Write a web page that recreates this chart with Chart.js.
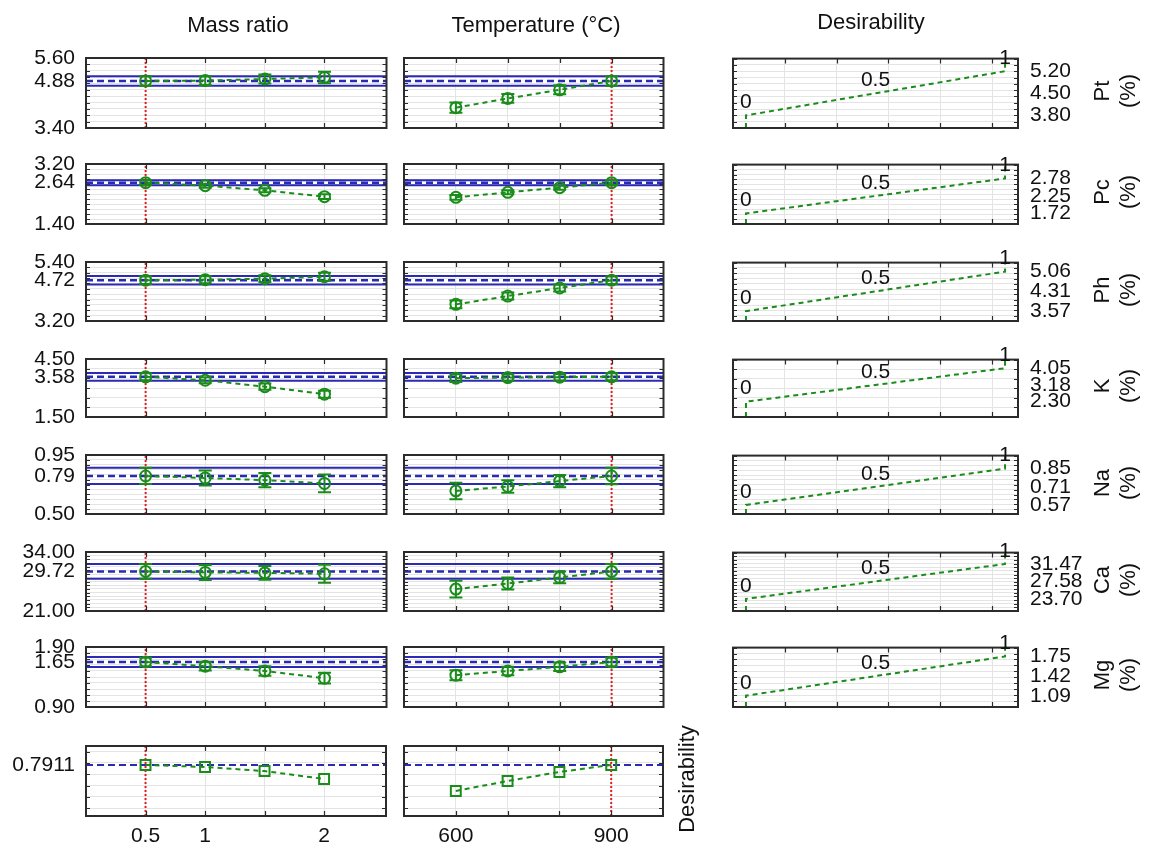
<!DOCTYPE html>
<html>
<head>
<meta charset="utf-8">
<script src="https://cdn.jsdelivr.net/npm/chart.js@4.4.0/dist/chart.umd.min.js"></script>
<style>
  body { margin: 0; background: #fff; }
  #page { position: relative; width: 1149px; height: 850px; overflow: hidden;
          font-family: 'Liberation Sans', Arial, sans-serif; color: #111; }
  .panel { position: absolute; }
  .panel canvas { display: block; }
  .lbl { position: absolute; font-size: 22px; line-height: 26px; white-space: nowrap;
         text-align: center; transform: translate(-50%, -50%); }
  .rot { transform: translate(-50%, -50%) rotate(-90deg); }
</style>
</head>
<body>
<div id="page"></div>
<script>
// factors
const massRatio = [0.5, 1, 1.5, 2];
const massTickLabels = ['0.5', '1', '', '2'];
const temperature = [600, 700, 800, 900];
const tempTickLabels = ['600', '', '', '900'];
const massCurrent = 0.5;
const tempCurrent = 900;

// responses (one row each)
const responses = ['Pt', 'Pc', 'Ph', 'K', 'Na', 'Ca', 'Mg'];
const axisMin = [3.40, 1.40, 3.20, 1.50, 0.50, 21.00, 0.90];
const axisMax = [5.60, 3.20, 5.40, 4.50, 0.95, 34.00, 1.90];
const axisStep = [0.2, 0.15, 0.2, 0.5, 0.0375, 0.8125, 0.1];
const predicted = [4.88, 2.64, 4.72, 3.58, 0.79, 29.72, 1.65];
const predictedCI = [0.15, 0.075, 0.16, 0.20, 0.062, 1.62, 0.084];

const meanVsMass = [
  [4.88, 4.89, 4.94, 4.99],
  [2.64, 2.55, 2.41, 2.22],
  [4.72, 4.74, 4.78, 4.85],
  [3.58, 3.40, 3.07, 2.68],
  [0.79, 0.775, 0.758, 0.733],
  [29.72, 29.5, 29.4, 29.2],
  [1.65, 1.58, 1.50, 1.38]
];
const errVsMass = [
  [0.15, 0.14, 0.14, 0.18],
  [0.07, 0.06, 0.06, 0.07],
  [0.14, 0.13, 0.13, 0.15],
  [0.18, 0.16, 0.16, 0.18],
  [0.062, 0.057, 0.054, 0.068],
  [1.62, 1.66, 1.5, 2.0],
  [0.07, 0.07, 0.08, 0.09]
];
const meanVsTemp = [
  [4.04, 4.33, 4.60, 4.88],
  [2.20, 2.35, 2.49, 2.64],
  [3.82, 4.13, 4.43, 4.72],
  [3.51, 3.54, 3.56, 3.58],
  [0.676, 0.710, 0.751, 0.79],
  [25.82, 27.06, 28.39, 29.72],
  [1.43, 1.50, 1.57, 1.65]
];
const errVsTemp = [
  [0.16, 0.14, 0.14, 0.15],
  [0.07, 0.06, 0.06, 0.07],
  [0.14, 0.13, 0.13, 0.14],
  [0.20, 0.17, 0.17, 0.18],
  [0.063, 0.047, 0.047, 0.063],
  [1.85, 1.33, 1.3, 1.62],
  [0.084, 0.07, 0.07, 0.07]
];

// desirability functions (value at d = 0, 0.5, 1)
const desLow = [3.80, 1.72, 3.57, 2.30, 0.57, 23.70, 1.09];
const desMid = [4.50, 2.25, 4.31, 3.18, 0.71, 27.58, 1.42];
const desHigh = [5.20, 2.78, 5.06, 4.05, 0.85, 31.47, 1.75];
const desTicks = [0.15, 0.35, 0.55, 0.75, 0.95];

// overall desirability row
const desirVsMass = [0.7911, 0.782, 0.764, 0.729];
const desirVsTemp = [0.676, 0.720, 0.760, 0.7911];
const desirCurrent = 0.7911;
const desirAxisTicks = [0.60, 0.65, 0.70, 0.75, 0.80, 0.85];

// layout
const FONT = "'Liberation Sans', Arial, sans-serif";
const GREEN = '#1a8c1a', BLUE = '#2a2ab4', RED = '#e02020', GRID = '#e4e4e4', INK = '#111';
const COLS = [{ left: 86, right: 387 }, { left: 404, right: 664 }, { left: 733, right: 1018 }];
const ROW_TOP = [58, 164, 262, 359, 455, 552, 647, 746];
const ROW_BOTTOM = [128, 224, 321, 417, 514, 611, 707, 816];

Chart.defaults.font.family = FONT;
Chart.defaults.font.size = 21;
Chart.defaults.color = INK;

const page = document.getElementById('page');

function steps(min, max, step) {
  const out = [];
  for (let i = 0; min + i * step <= max + 1e-9; i++) out.push(+(min + i * step).toFixed(6));
  return out;
}
function hasVal(list, v) { return list.some(l => Math.abs(l - v) < 1e-7); }

function text(str, x, y, cls) {
  const d = document.createElement('div');
  d.className = 'lbl' + (cls ? ' ' + cls : '');
  d.innerHTML = str;
  d.style.left = x + 'px';
  d.style.top = y + 'px';
  page.appendChild(d);
}

// frame, inward ticks and point notes
function framePlugin(minor, notes) {
  return {
    id: 'frame',
    afterDatasetsDraw(chart) {
      const { ctx, chartArea: a, scales: { x, y } } = chart;
      ctx.save();
      ctx.strokeStyle = '#2b2b2b';
      ctx.lineWidth = 1.2;
      ctx.beginPath();
      x.ticks.forEach(t => {
        const px = Math.round(x.getPixelForValue(t.value)) + 0.5;
        ctx.moveTo(px, a.top); ctx.lineTo(px, a.top + 5);
        ctx.moveTo(px, a.bottom); ctx.lineTo(px, a.bottom - 5);
      });
      y.ticks.forEach(t => {
        if (!hasVal(minor, t.value)) return;
        const py = Math.round(y.getPixelForValue(t.value)) + 0.5;
        ctx.moveTo(a.left, py); ctx.lineTo(a.left + 4, py);
        ctx.moveTo(a.right, py); ctx.lineTo(a.right - 4, py);
      });
      ctx.stroke();
      ctx.lineWidth = 2;
      ctx.strokeRect(a.left, a.top, a.right - a.left, a.bottom - a.top);
      if (notes) {
        ctx.fillStyle = INK;
        ctx.font = '21px ' + FONT;
        ctx.textAlign = 'center';
        ctx.textBaseline = 'middle';
        notes.forEach(n => ctx.fillText(n.text, x.getPixelForValue(n.x), y.getPixelForValue(n.y) - 13));
      }
      ctx.restore();
    }
  };
}

function makePanel(p) {
  const c = COLS[p.col];
  const top = ROW_TOP[p.row], bottom = ROW_BOTTOM[p.row];
  const right = p.col === 2;
  const padL = p.col === 0 ? 80 : (p.col === 1 ? 10 : 8);
  const padR = right ? 70 : 8;
  const padT = 24, padB = 36;
  const div = document.createElement('div');
  div.className = 'panel';
  div.style.left = (c.left - padL) + 'px';
  div.style.top = (top - padT) + 'px';
  div.style.width = (padL + c.right - c.left + padR) + 'px';
  div.style.height = (padT + bottom - top + padB) + 'px';
  const cv = document.createElement('canvas');
  div.appendChild(cv);
  page.appendChild(div);

  const allY = p.yTicks.concat(p.yLabels.filter(v => !hasVal(p.yTicks, v))).sort((a, b) => a - b);

  new Chart(cv, {
    type: 'line',
    data: { datasets: p.datasets },
    options: {
      responsive: true,
      maintainAspectRatio: false,
      animation: false,
      events: [],
      layout: { padding: { top: padT, left: right ? padL : 0, right: right ? 0 : padR, bottom: 0 } },
      plugins: { legend: { display: false }, tooltip: { enabled: false } },
      scales: {
        x: {
          type: 'linear', min: p.xMin, max: p.xMax,
          afterBuildTicks: s => { s.ticks = p.xTicks.map(v => ({ value: v })); },
          afterFit: s => { s.height = padB; },
          ticks: {
            autoSkip: false, maxRotation: 0, padding: 8,
            display: !!p.xLabels,
            callback: (v, i) => (p.xLabels ? p.xLabels[i] : '')
          },
          grid: { color: GRID, drawTicks: false },
          border: { display: false }
        },
        y: {
          type: 'linear', position: right ? 'right' : 'left', min: p.yMin, max: p.yMax,
          afterBuildTicks: s => { s.ticks = allY.map(v => ({ value: v })); },
          afterFit: s => { s.width = right ? padR : padL; },
          ticks: {
            autoSkip: false, padding: right ? 12 : 11,
            callback: v => (hasVal(p.yLabels, v) ? Number(v).toFixed(p.yDec) : '')
          },
          grid: {
            color: ctx => (ctx.tick && hasVal(p.yTicks, ctx.tick.value) ? GRID : 'rgba(0,0,0,0)'),
            drawTicks: false
          },
          border: { display: false }
        }
      }
    },
    plugins: [framePlugin(p.yTicks, p.notes)]
  });
}

function hLine(y, x0, x1, dash, width, order) {
  return { data: [{ x: x0, y }, { x: x1, y }], borderColor: BLUE, borderDash: dash,
           borderWidth: width, pointRadius: 0, order };
}
function vLine(x, y0, y1) {
  return { data: [{ x, y: y0 }, { x, y: y1 }], borderColor: RED, borderDash: [2, 2],
           borderWidth: 2, pointRadius: 0, order: 2 };
}
function errorBars(xs, means, errs) {
  const pts = [];
  xs.forEach((x, i) => {
    pts.push({ x, y: means[i] - errs[i] }, { x, y: means[i] + errs[i] }, { x, y: NaN });
  });
  return { data: pts, borderColor: GREEN, borderWidth: 2, pointStyle: 'line',
           pointRadius: 6.5, pointBorderColor: GREEN, pointBorderWidth: 2, order: 1 };
}
function profile(xs, ys, style, radius) {
  return { data: xs.map((x, i) => ({ x, y: ys[i] })), borderColor: GREEN, borderDash: [5, 4],
           borderWidth: 2, pointStyle: style, pointRadius: radius,
           pointBackgroundColor: 'rgba(0,0,0,0)', pointBorderColor: GREEN, pointBorderWidth: 2, order: 0 };
}

const factorCols = [
  { xs: massRatio, xMin: 0, xMax: 2.52, labels: massTickLabels, cur: massCurrent, means: meanVsMass, errs: errVsMass, desir: desirVsMass },
  { xs: temperature, xMin: 500, xMax: 1000, labels: tempTickLabels, cur: tempCurrent, means: meanVsTemp, errs: errVsTemp, desir: desirVsTemp }
];

responses.forEach((name, r) => {
  const lo = axisMin[r], hi = axisMax[r];
  const minor = steps(lo, hi, axisStep[r]);
  factorCols.forEach((f, c) => {
    makePanel({
      col: c, row: r, xMin: f.xMin, xMax: f.xMax, xTicks: f.xs, xLabels: null,
      yMin: lo, yMax: hi, yTicks: minor, yLabels: c === 0 ? [lo, predicted[r], hi] : [], yDec: 2,
      datasets: [
        profile(f.xs, f.means[r], 'circle', 5.5),
        errorBars(f.xs, f.means[r], f.errs[r]),
        vLine(f.cur, lo, hi),
        hLine(predicted[r], f.xMin, f.xMax, [7, 4], 2.5, 3),
        hLine(predicted[r] + predictedCI[r], f.xMin, f.xMax, [], 2, 4),
        hLine(predicted[r] - predictedCI[r], f.xMin, f.xMax, [], 2, 4)
      ]
    });
  });
  makePanel({
    col: 2, row: r, xMin: -0.05, xMax: 1.05, xTicks: desTicks, xLabels: null,
    yMin: lo, yMax: hi, yTicks: minor, yLabels: [desLow[r], desMid[r], desHigh[r]], yDec: 2,
    notes: [{ x: 0, y: desLow[r], text: '0' }, { x: 0.5, y: desMid[r], text: '0.5' }, { x: 1, y: desHigh[r], text: '1' }],
    datasets: [{
      data: [{ x: 0, y: lo }, { x: 0, y: desLow[r] }, { x: 1, y: desHigh[r] }, { x: 1, y: hi }],
      borderColor: GREEN, borderDash: [5, 4], borderWidth: 2, pointRadius: 0
    }]
  });
  text(name + '<br>(%)', 1115, (ROW_TOP[r] + ROW_BOTTOM[r]) / 2 - 2, 'rot');
});

// overall desirability row
factorCols.forEach((f, c) => {
  makePanel({
    col: c, row: 7, xMin: f.xMin, xMax: f.xMax, xTicks: f.xs, xLabels: f.labels,
    yMin: 0.565, yMax: 0.875, yTicks: desirAxisTicks, yLabels: c === 0 ? [desirCurrent] : [], yDec: 4,
    datasets: [
      profile(f.xs, f.desir, 'rect', 7),
      vLine(f.cur, 0.565, 0.875),
      hLine(desirCurrent, f.xMin, f.xMax, [7, 4], 2, 3)
    ]
  });
});

text('Mass ratio', 238, 25);
text('Temperature (°C)', 536, 25);
text('Desirability', 871, 22);
text('Desirability', 687, 779, 'rot');
</script>
</body>
</html>
